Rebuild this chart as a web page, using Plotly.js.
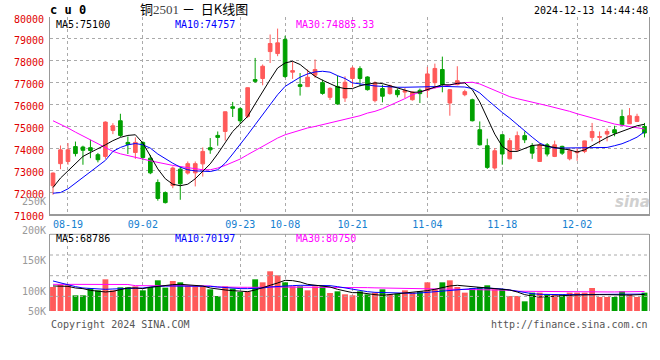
<!DOCTYPE html>
<html><head><meta charset="utf-8">
<script src="https://cdn.plot.ly/plotly-3.0.1.min.js"></script>
<style>html,body{margin:0;padding:0;background:#fff}#chart{width:660px;height:360px}</style>
</head><body><div id="chart"></div>
<script>
// ---- data ----
const dates = [
 '2024-08-15','2024-08-16','2024-08-19','2024-08-20','2024-08-21','2024-08-22','2024-08-23','2024-08-26','2024-08-27','2024-08-28','2024-08-29','2024-08-30',
 '2024-09-02','2024-09-03','2024-09-04','2024-09-05','2024-09-06','2024-09-09','2024-09-10','2024-09-11','2024-09-12','2024-09-13','2024-09-18','2024-09-19','2024-09-20','2024-09-23','2024-09-24','2024-09-25','2024-09-26','2024-09-27','2024-09-30',
 '2024-10-08','2024-10-09','2024-10-10','2024-10-11','2024-10-14','2024-10-15','2024-10-16','2024-10-17','2024-10-18','2024-10-21','2024-10-22','2024-10-23','2024-10-24','2024-10-25','2024-10-28','2024-10-29','2024-10-30','2024-10-31',
 '2024-11-01','2024-11-04','2024-11-05','2024-11-06','2024-11-07','2024-11-08','2024-11-11','2024-11-12','2024-11-13','2024-11-14','2024-11-15','2024-11-18','2024-11-19','2024-11-20','2024-11-21','2024-11-22','2024-11-25','2024-11-26','2024-11-27','2024-11-28','2024-11-29',
 '2024-12-02','2024-12-03','2024-12-04','2024-12-05','2024-12-06','2024-12-09','2024-12-10','2024-12-11','2024-12-12','2024-12-13'];

const openP  = [72290,73300,73400,74080,74060,74030,73710,73630,74820,75260,74270,73810,74270,73550,72440,71980,72300,73050,72870,72880,73290,74030,74590,74770,75900,75810,75460,77140,77190,78420,78330,78970,77480,76910,76820,77340,77000,76330,76830,76300,77190,77640,77260,76180,76730,76500,76650,76570,76220,76650,76650,77000,77600,76070,76910,76450,76220,74850,74120,73100,74620,73520,73930,74580,74120,73400,74160,73630,74090,73520,73800,73860,74500,74500,74650,74850,75450,75120,75230,75000];
const highP  = [72900,74130,74240,74310,74120,74390,73790,75230,75150,75580,74540,74500,74320,73700,72580,72030,73170,73170,73400,73400,74040,74470,74770,75680,76120,75870,76780,78130,77830,79200,79470,79140,77960,77440,77600,78060,77140,76790,77320,77290,77750,77750,77290,77060,76910,76910,76730,76760,76610,76730,77720,77870,78190,76700,77750,76680,76270,75230,74440,74010,74650,74470,74770,74770,74240,74240,74240,74350,74120,74010,74010,74350,75160,74770,74900,75030,75770,75840,75580,75160];
const lowP   = [71880,73050,73250,73630,73250,73550,73360,73520,74650,74520,73740,73520,73450,72820,71610,71480,72180,71650,72800,72260,72710,73750,74120,74350,75430,75110,75380,76990,76880,77900,78210,77220,77170,76410,76800,77220,76450,76210,75990,76120,76790,76830,76640,76100,76100,76450,76330,76300,76180,76070,76330,76730,76560,75490,76880,76380,75230,74130,73060,73020,73250,73500,73860,74240,73520,73380,73630,73600,73700,73450,73430,73780,74320,74210,74320,74550,75030,75110,75200,74500];
const closeP = [72870,73930,73930,73760,73910,73900,73480,75200,75030,74590,74180,74270,73580,72880,71710,71520,73100,72380,73300,73300,73860,73930,74500,75670,75830,75260,76770,77060,77750,78790,78820,77280,77550,76830,77250,77600,76510,76740,76030,77020,77670,77190,76680,76990,76380,76860,76450,76640,76570,76500,77400,77650,76910,76680,77090,76590,75260,74160,73130,73890,73740,74350,74580,74390,73780,74160,73740,74160,73780,73890,73860,74340,74770,74540,74770,74700,75080,75490,75460,74700];

const ma5  = [72210,72640,72970,73320,73630,73810,73970,74160,74350,74500,74590,74620,74240,73680,73060,72610,72360,72290,72360,72610,72940,73290,73750,74240,74770,75110,75460,76030,76610,77140,77670,77900,77980,77830,77550,77290,77110,76960,76800,76730,76730,76860,76910,76990,76960,76860,76760,76640,76560,76570,76680,76820,76910,76900,76970,76990,76680,76120,75380,74650,74090,73860,73860,73980,74130,74160,74090,74040,73980,73930,73830,73930,74120,74320,74500,74650,74770,74900,75030,75100];
const ma10 = [71950,71980,72150,72410,72670,72940,73170,73450,73860,74040,74160,74220,74160,74010,73740,73520,73320,73140,73020,72970,72940,72940,73020,73320,73740,74160,74620,75080,75540,75990,76450,76830,77060,77250,77400,77490,77520,77480,77320,77190,76990,76940,76880,76850,76830,76800,76790,76790,76790,76790,76800,76820,76830,76830,76830,76800,76730,76530,76220,75920,75640,75380,75080,74770,74510,74240,74090,74010,74010,74010,74010,74010,74010,74010,74040,74120,74210,74350,74510,74757];
const ma30 = [75260,75110,74930,74740,74560,74390,74210,74010,73860,73750,73660,73580,73510,73430,73350,73280,73220,73170,73130,73060,73020,73020,73100,73220,73350,73510,73710,73900,74090,74290,74470,74620,74730,74820,74930,75000,75080,75160,75230,75310,75380,75490,75610,75690,75810,75960,76120,76270,76450,76570,76680,76760,76830,76910,76960,77000,77020,76940,76790,76640,76480,76360,76270,76180,76100,76030,75950,75870,75800,75690,75580,75490,75380,75280,75190,75110,75050,74990,74930,74885];

// volume in thousands (K)
const volume = [99.6,109.3,106.5,65.0,65.0,95.4,85.7,131.4,85.7,98.2,98.2,102.3,85.7,99.6,127.2,96.8,124.5,118.9,103.7,102.3,102.3,89.9,62.2,102.3,92.7,78.8,81.6,131.4,118.9,164.6,148.0,118.9,102.3,102.3,85.7,102.3,102.3,74.7,81.6,69.2,65.0,81.6,69.2,76.1,89.9,69.2,71.9,85.7,76.1,81.6,118.9,89.9,118.9,127.2,99.6,76.1,95.4,99.6,106.5,89.9,89.9,62.2,62.2,40.1,76.1,76.1,69.2,69.2,69.2,76.1,76.1,76.1,95.4,58.1,58.1,58.1,81.6,69.2,58.1,76.1];
const vma5  = [103.7,103.7,102.3,95.4,92.7,85.7,81.6,78.8,81.6,89.9,95.4,95.4,92.7,98.2,102.3,105.1,109.3,110.6,109.3,107.9,103.7,95.4,89.9,87.1,84.4,81.6,80.2,87.1,95.4,106.5,116.2,127.2,125.9,120.3,110.6,106.5,102.3,99.6,89.9,81.6,76.1,76.1,70.5,67.8,65.0,67.8,70.5,73.3,76.1,78.8,84.4,89.9,96.8,103.7,106.5,103.7,101.0,99.6,96.8,95.4,92.7,87.1,78.8,67.8,62.2,58.1,59.5,62.2,63.6,65.0,66.4,67.8,69.2,67.8,67.8,66.4,65.0,66.0,67.5,68.8];
const vma10 = [124.5,116.2,109.3,101.0,95.4,92.7,89.9,89.9,91.3,92.7,92.7,92.7,95.4,99.6,102.3,103.7,103.7,103.7,103.7,103.7,103.7,102.3,99.6,96.8,94.0,92.7,92.7,92.7,95.4,99.6,102.3,103.7,105.1,106.5,106.5,106.5,106.5,105.1,101.0,95.4,89.9,84.4,80.2,77.4,76.1,74.7,73.3,73.3,73.3,74.7,77.4,80.2,83.0,85.7,88.5,91.3,94.0,95.4,95.4,94.0,91.3,87.1,81.6,76.1,71.9,69.2,67.8,67.8,67.8,67.8,67.8,68.5,69.2,69.2,69.2,69.5,69.8,70.0,70.2,70.2];
const vma30 = [110.6,110.6,110.6,110.0,110.0,110.6,110.6,111.0,110.6,110.6,110.0,105.1,105.1,104.5,104.5,104.5,105.1,105.1,104.5,104.5,104.0,103.7,99.6,98.2,98.2,98.2,98.2,97.5,98.2,99.6,99.6,99.6,99.6,99.6,99.6,99.6,99.0,98.2,96.8,96.8,96.8,96.8,96.8,96.0,95.4,95.4,93.5,92.7,92.7,92.7,92.7,92.7,92.7,92.0,91.3,88.5,88.5,87.1,87.1,87.1,87.1,86.0,82.0,81.6,80.2,80.2,80.2,80.2,79.5,79.5,79.0,79.0,79.0,79.0,79.0,79.0,79.5,80.0,80.5,80.75];

const tickDates  = ['2024-08-19','2024-09-02','2024-09-23','2024-10-08','2024-10-21','2024-11-04','2024-11-18','2024-12-02'];
const tickLabels = ['08-19','09-02','09-23','10-08','10-21','11-04','11-18','12-02'];
const volLabels  = ['250K','200K','150K','100K','50K'];

// ---- styling ----
const RED = '#ff5a5a', GREEN = '#00a000';
const MONO = 'DejaVu Sans Mono, Liberation Mono, monospace';
const W = 660, H = 360, ML = 50, MR = 11, MT = 17, MB = 49;
const PW = W - ML - MR, PH = H - MT - MB;
const px = X => (X - ML) / PW;
const py = Y => (H - MB - Y) / PH;

const volColors = closeP.map((c, i) => c >= openP[i] ? RED : GREEN);

const traces = [
  {type:'candlestick', x:dates, open:openP, high:highP, low:lowP, close:closeP,
   xaxis:'x', yaxis:'y', whiskerwidth:0, hoverinfo:'skip', showlegend:false,
   increasing:{line:{color:RED, width:1}, fillcolor:RED},
   decreasing:{line:{color:GREEN, width:1}, fillcolor:GREEN}},
  {type:'scatter', mode:'lines', x:dates, y:ma30, xaxis:'x', yaxis:'y', line:{color:'#ff00ff', width:1}, hoverinfo:'skip', showlegend:false},
  {type:'scatter', mode:'lines', x:dates, y:ma10, xaxis:'x', yaxis:'y', line:{color:'#0000ff', width:1}, hoverinfo:'skip', showlegend:false},
  {type:'scatter', mode:'lines', x:dates, y:ma5,  xaxis:'x', yaxis:'y', line:{color:'#000000', width:1}, hoverinfo:'skip', showlegend:false},
  {type:'bar', x:dates, y:volume, xaxis:'x2', yaxis:'y2', marker:{color:volColors, line:{width:0}}, hoverinfo:'skip', showlegend:false},
  {type:'scatter', mode:'lines', x:dates, y:vma30, xaxis:'x2', yaxis:'y2', line:{color:'#ff00ff', width:1}, hoverinfo:'skip', showlegend:false},
  {type:'scatter', mode:'lines', x:dates, y:vma10, xaxis:'x2', yaxis:'y2', line:{color:'#0000ff', width:1}, hoverinfo:'skip', showlegend:false},
  {type:'scatter', mode:'lines', x:dates, y:vma5,  xaxis:'x2', yaxis:'y2', line:{color:'#000000', width:1}, hoverinfo:'skip', showlegend:false}
];

const gridStyle = {showgrid:true, gridcolor:'#aaaaaa', griddash:'dot', gridwidth:1};

const annotations = [];
function txt(text, X, Y, opts) {
  annotations.push(Object.assign({xref:'paper', yref:'paper', x:px(X), y:py(Y), text:text,
    showarrow:false, xanchor:'left', yanchor:'middle', borderpad:0,
    font:{family:MONO, size:10, color:'#000'}}, opts || {}));
}
// header
txt('<b>c u 0</b>', 49, 10, {font:{family:MONO, size:12, color:'#000'}});
txt('铜<span style="font-family:Liberation Serif;color:#444">2501</span> －  日K线图', 139, 9,
    {font:{family:'Noto Sans CJK SC', size:13, color:'#000'}});
txt('2024-12-13 14:44:48', 649, 11, {xanchor:'right'});
// price legend
txt('MA5:75100', 55, 24);
txt('MA10:74757', 174, 24, {font:{family:MONO, size:10, color:'#0000ff'}});
txt('MA30:74885.33', 295, 24, {font:{family:MONO, size:10, color:'#ff00ff'}});
// volume legend
txt('MA5:68786', 55, 239);
txt('MA10:70197', 174, 239, {font:{family:MONO, size:10, color:'#0000ff'}});
txt('MA30:80750', 295, 239, {font:{family:MONO, size:10, color:'#ff00ff'}});
// volume labels
const volLabelY = [201, 230, 260, 291, 311];
volLabels.forEach((t, i) => txt(t, 47, volLabelY[i], {xanchor:'right', font:{family:MONO, size:10, color:'#999'}}));
// footer
txt('Copyright 2024 SINA.COM', 50, 324, {font:{family:MONO, size:10, color:'#555'}});
txt('http://finance.sina.com.cn', 649, 324, {xanchor:'right', font:{family:MONO, size:10, color:'#555'}});
// watermark
txt('<b><i>sina</i></b>', 614, 202, {font:{family:'DejaVu Sans', size:15, color:'#d0d0d0'}});

const shapes = [
  {type:'line', xref:'paper', yref:'paper', x0:0, x1:1, y0:py(234.3), y1:py(234.3), line:{color:'#999', width:1}},
  ...[255, 275.7, 296.4].map(Y => ({type:'line', xref:'paper', yref:'paper', x0:0, x1:1, y0:py(Y), y1:py(Y),
      line:{color:'#aaaaaa', width:1, dash:'dot'}}))
];

const layout = {
  width: W, height: H, margin:{l:ML, r:MR, t:MT, b:MB, pad:0},
  paper_bgcolor:'#fff', plot_bgcolor:'#fff', showlegend:false,
  boxgap:0.3, bargap:0.22,
  xaxis: Object.assign({type:'category', domain:[0,1], anchor:'y', range:[-0.4, 79.6],
    tickmode:'array', tickvals:tickDates, ticktext:tickLabels, ticks:'',
    tickfont:{family:MONO, size:10, color:'#1480d0'}, showline:true, linecolor:'#999', linewidth:2,
    zeroline:false, rangeslider:{visible:false}, fixedrange:true}, gridStyle),
  yaxis: Object.assign({domain:[py(214), 1], range:[71000, 80000], tick0:71000, dtick:1000, tickformat:'d',
    ticks:'', ticklabelstandoff:3, ticklabelshift:2, tickfont:{family:MONO, size:10, color:'#e00000'},
    showline:true, mirror:true, linecolor:'#999', linewidth:1, zeroline:false, fixedrange:true}, gridStyle),
  xaxis2: Object.assign({type:'category', domain:[0,1], anchor:'y2', matches:'x',
    tickmode:'array', tickvals:tickDates, ticktext:tickLabels, showticklabels:false, ticks:'',
    showline:false, zeroline:false, fixedrange:true}, gridStyle),
  yaxis2: {domain:[0, py(234.3)], range:[0, 318], showgrid:false, showticklabels:false, ticks:'',
    showline:true, mirror:true, linecolor:'#999', linewidth:1, zeroline:false, fixedrange:true},
  shapes: shapes,
  annotations: annotations
};

Plotly.newPlot('chart', traces, layout, {displayModeBar:false, staticPlot:true});
</script>
</body></html>
